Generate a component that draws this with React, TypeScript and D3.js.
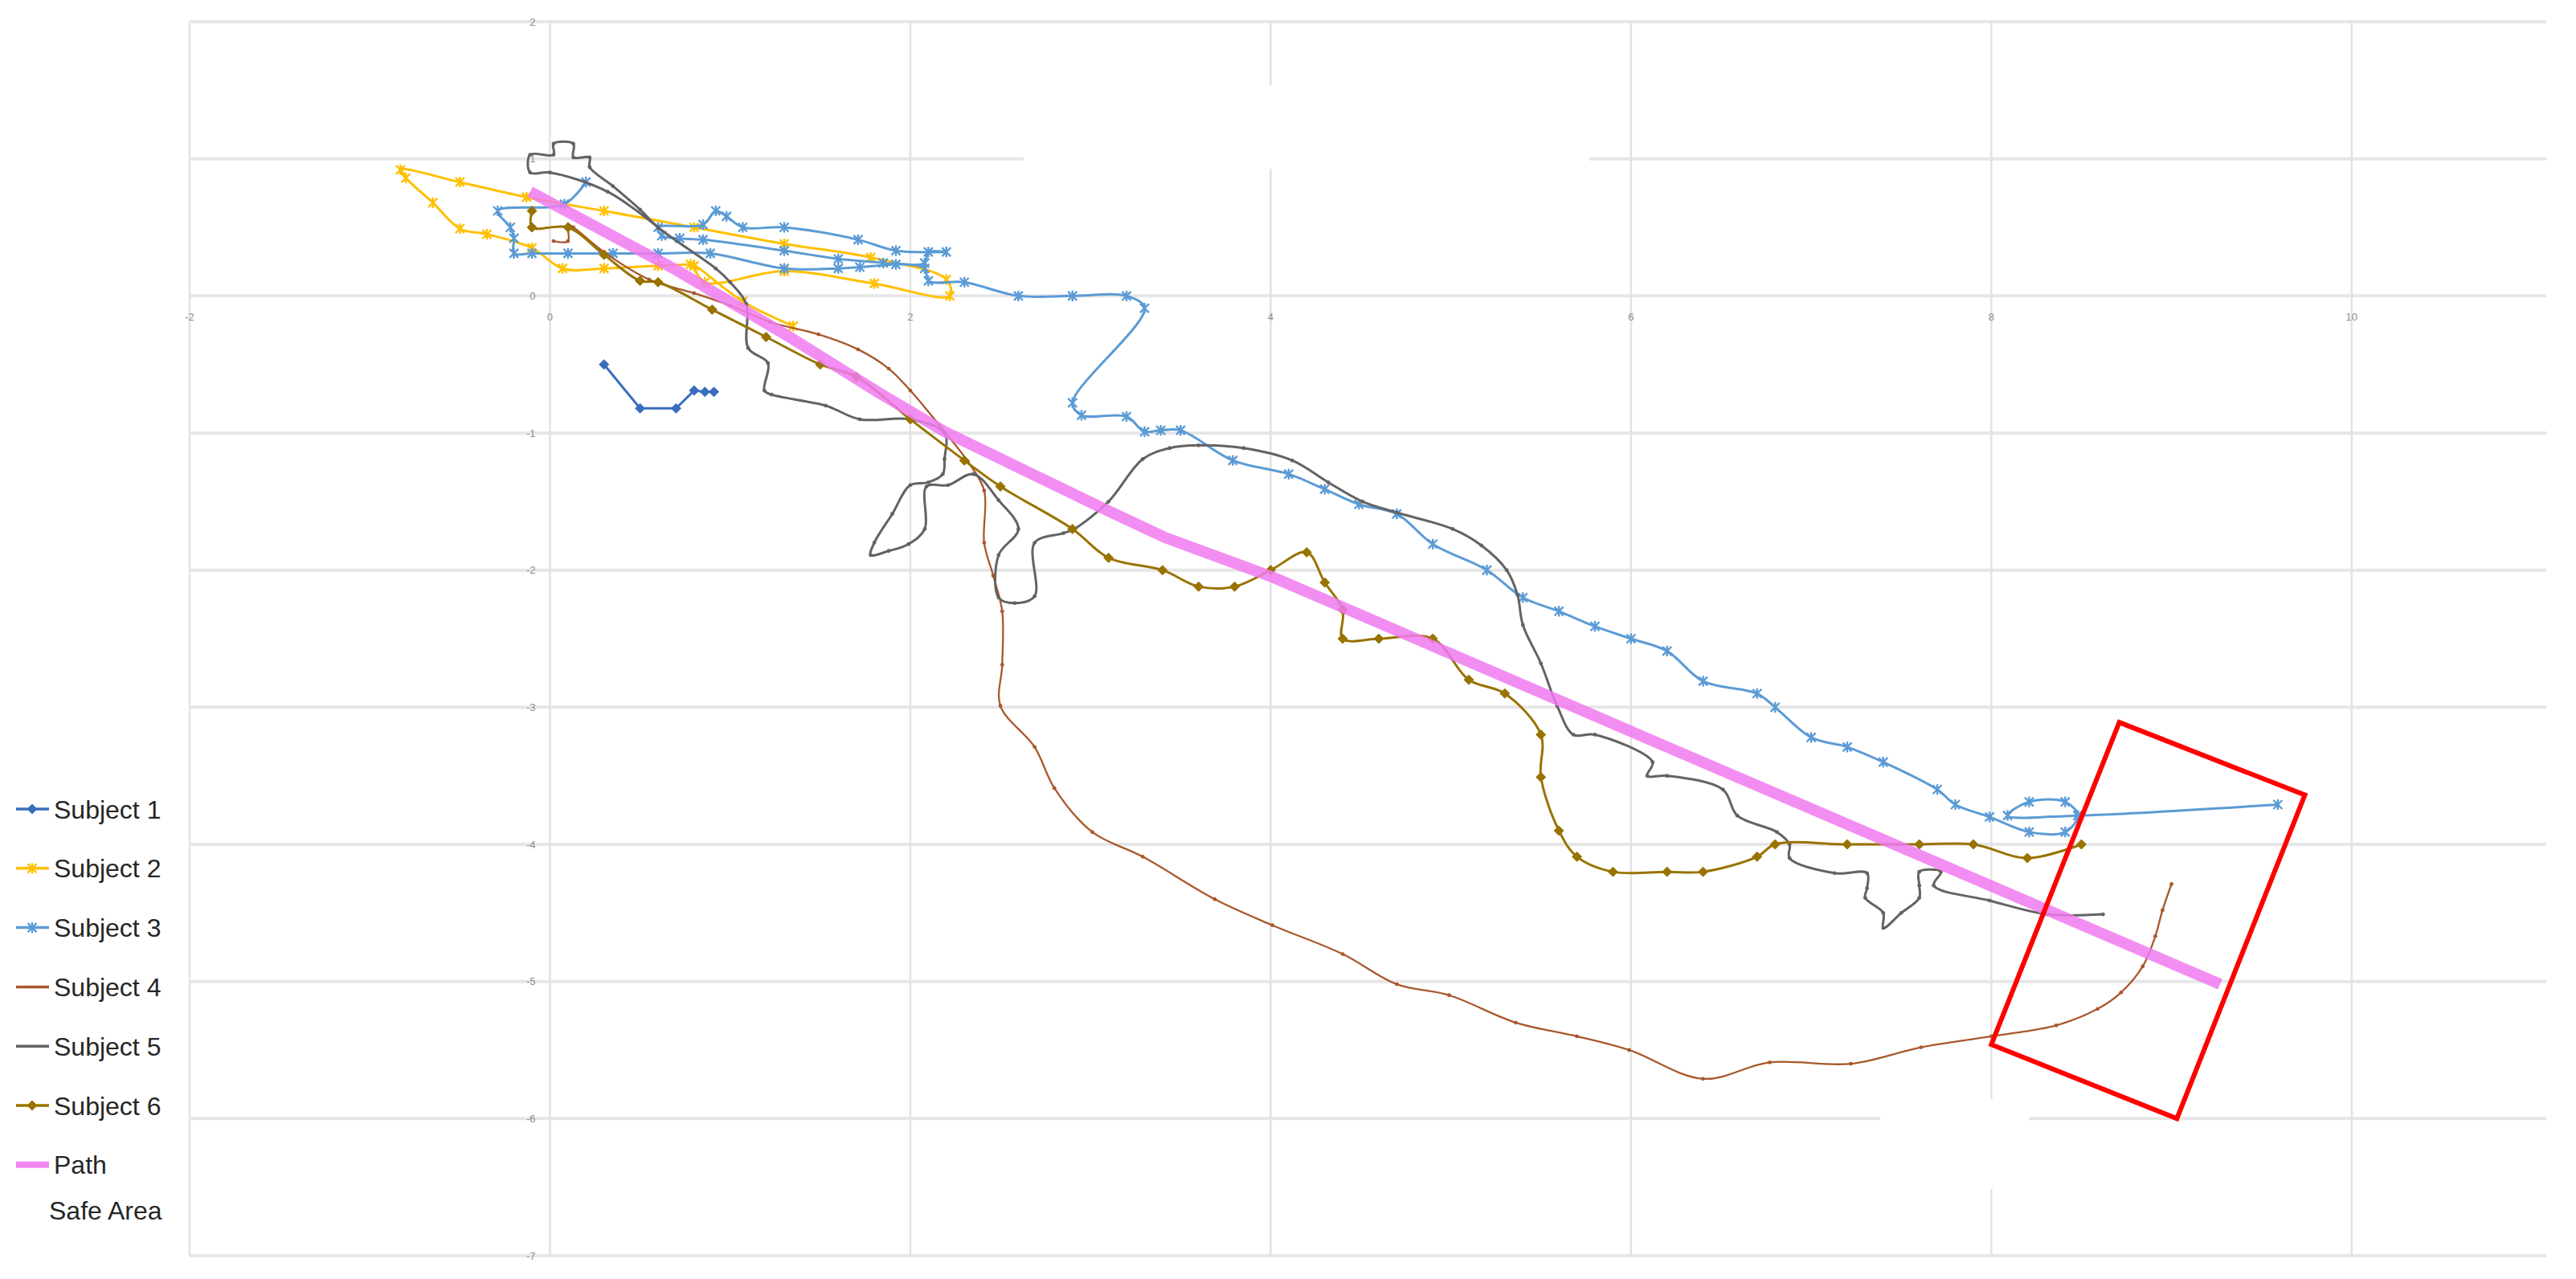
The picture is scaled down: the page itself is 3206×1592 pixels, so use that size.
import React from 'react';
import * as d3 from 'd3';

type Pt = [number, number];

const xTicks = [-2, 0, 2, 4, 6, 8, 10];
const yTicks = [2, 1, 0, -1, -2, -3, -4, -5, -6, -7];

const subject1: Pt[] = [[0.3, -0.5], [0.5, -0.82], [0.7, -0.82], [0.8, -0.69], [0.86, -0.7], [0.91, -0.7]];

const subject2: Pt[] = [
  [1.35, -0.22], [1.07, -0.04], [0.8, 0.22], [0.86, 0.1], [1.3, 0.18], [1.8, 0.09], [2.22, 0.0],
  [2.2, 0.12], [1.78, 0.28], [1.3, 0.38], [0.8, 0.5], [0.3, 0.62], [-0.13, 0.72], [-0.5, 0.83],
  [-0.83, 0.92], [-0.8, 0.86], [-0.65, 0.68], [-0.5, 0.49], [-0.35, 0.45], [-0.1, 0.35], [0.07, 0.2],
  [0.3, 0.2], [0.6, 0.22], [0.78, 0.23],
];

const subject3: Pt[] = [
  [0.2, 0.83], [0.08, 0.67], [-0.29, 0.62], [-0.22, 0.5], [-0.2, 0.42], [-0.2, 0.31], [-0.1, 0.31],
  [0.1, 0.31], [0.35, 0.31], [0.6, 0.31], [0.89, 0.31], [1.3, 0.2], [1.6, 0.2], [1.72, 0.21],
  [1.92, 0.23], [2.08, 0.24], [2.1, 0.32], [2.2, 0.32], [1.92, 0.33], [1.71, 0.41], [1.3, 0.5],
  [1.07, 0.5], [0.98, 0.58], [0.92, 0.62], [0.85, 0.52], [0.6, 0.5], [0.62, 0.44], [0.72, 0.42],
  [0.85, 0.41], [1.3, 0.33], [1.6, 0.27], [1.85, 0.24], [2.08, 0.2], [2.1, 0.11], [2.3, 0.1],
  [2.6, 0.0], [2.9, 0.0], [3.2, 0.0], [3.3, -0.09], [2.9, -0.78], [2.95, -0.87], [3.2, -0.88],
  [3.3, -0.99], [3.39, -0.98], [3.5, -0.98], [3.79, -1.2], [4.1, -1.3], [4.3, -1.41], [4.49, -1.52],
  [4.7, -1.59], [4.9, -1.81], [5.2, -2.0], [5.4, -2.2], [5.6, -2.3], [5.8, -2.41], [6.0, -2.5],
  [6.2, -2.59], [6.4, -2.81], [6.7, -2.9], [6.8, -3.0], [7.0, -3.22], [7.2, -3.29], [7.4, -3.4],
  [7.7, -3.6], [7.8, -3.71], [7.99, -3.8], [8.21, -3.91], [8.41, -3.91], [8.48, -3.79], [8.41, -3.69],
  [8.21, -3.69], [8.09, -3.79], [8.48, -3.79], [9.59, -3.71],
];

const subject4: Pt[] = [
  [0.02, 0.4], [0.1, 0.4], [0.1, 0.52], [0.13, 0.5], [0.3, 0.32], [0.55, 0.12], [0.8, 0.02],
  [1.0, -0.07], [1.22, -0.19], [1.49, -0.28], [1.71, -0.39], [1.88, -0.53], [2.0, -0.69], [2.19, -0.99],
  [2.32, -1.21], [2.41, -1.42], [2.41, -1.8], [2.46, -2.04], [2.51, -2.3], [2.51, -2.69], [2.5, -2.99],
  [2.69, -3.29], [2.8, -3.59], [3.01, -3.91], [3.29, -4.09], [3.69, -4.4], [4.01, -4.59], [4.4, -4.8],
  [4.7, -5.02], [4.99, -5.1], [5.36, -5.3], [5.7, -5.4], [5.99, -5.5], [6.4, -5.71], [6.77, -5.59],
  [7.22, -5.6], [7.61, -5.48], [8.0, -5.4], [8.36, -5.32], [8.59, -5.2], [8.72, -5.08], [8.84, -4.89],
  [8.91, -4.67], [8.95, -4.48], [9.0, -4.29],
];

const subject5: Pt[] = [
  [0.6, 0.5], [0.32, 0.76], [0.0, 0.9], [-0.11, 0.9], [-0.11, 1.03], [0.02, 1.03], [0.02, 1.11],
  [0.13, 1.11], [0.13, 1.01], [0.22, 1.01], [0.22, 0.94], [0.35, 0.8], [0.5, 0.63], [0.6, 0.5],
  [0.92, 0.2], [1.0, 0.1], [1.09, -0.06], [1.1, -0.38], [1.21, -0.49], [1.19, -0.69], [1.23, -0.72],
  [1.53, -0.8], [1.72, -0.9], [2.0, -0.9], [2.19, -1.0], [2.19, -1.19], [2.18, -1.3], [2.1, -1.36],
  [2.0, -1.38], [1.9, -1.59], [1.8, -1.8], [1.78, -1.89], [1.88, -1.86], [1.99, -1.81], [2.08, -1.7],
  [2.09, -1.39], [2.21, -1.38], [2.35, -1.3], [2.49, -1.49], [2.6, -1.7], [2.49, -1.89], [2.49, -2.2],
  [2.58, -2.24], [2.69, -2.19], [2.69, -1.8], [2.85, -1.73], [2.91, -1.7], [3.1, -1.5], [3.29, -1.19],
  [3.44, -1.11], [3.6, -1.09], [3.85, -1.11], [4.12, -1.2], [4.32, -1.36], [4.51, -1.5], [4.7, -1.58],
  [5.01, -1.7], [5.17, -1.82], [5.31, -2.0], [5.37, -2.18], [5.4, -2.4], [5.5, -2.68], [5.59, -2.99],
  [5.68, -3.2], [5.8, -3.2], [6.12, -3.4], [6.09, -3.5], [6.2, -3.5], [6.51, -3.6], [6.59, -3.79],
  [6.81, -3.91], [6.88, -4.0], [6.88, -4.1], [7.13, -4.21], [7.31, -4.21], [7.31, -4.32], [7.3, -4.39],
  [7.4, -4.5], [7.4, -4.61], [7.5, -4.5], [7.6, -4.39], [7.6, -4.3], [7.6, -4.2], [7.72, -4.2],
  [7.68, -4.3], [7.99, -4.41], [8.31, -4.51], [8.62, -4.51],
];

const subject6: Pt[] = [
  [-0.1, 0.62], [-0.1, 0.5], [0.1, 0.5], [0.3, 0.3], [0.5, 0.11], [0.6, 0.1], [0.9, -0.1], [1.2, -0.3],
  [1.5, -0.5], [1.7, -0.59], [2.0, -0.9], [2.3, -1.2], [2.5, -1.39], [2.9, -1.7], [3.1, -1.91],
  [3.4, -2.0], [3.6, -2.12], [3.8, -2.12], [4.0, -2.0], [4.2, -1.87], [4.3, -2.09], [4.4, -2.29],
  [4.4, -2.5], [4.6, -2.5], [4.9, -2.5], [5.1, -2.8], [5.3, -2.9], [5.5, -3.2], [5.5, -3.51],
  [5.6, -3.9], [5.7, -4.09], [5.9, -4.2], [6.2, -4.2], [6.4, -4.2], [6.7, -4.09], [6.8, -4.0],
  [7.2, -4.0], [7.6, -4.0], [7.9, -4.0], [8.2, -4.1], [8.5, -4.0],
];

const pathLine: Pt[] = [
  [-0.11, 0.76], [0.7, 0.19], [1.33, -0.3], [1.83, -0.71], [2.19, -0.99], [3.07, -1.55], [3.41, -1.76],
  [4.01, -2.05], [6.29, -3.34], [9.27, -5.02],
];

const safeArea: Pt[] = [[8.71, -3.11], [9.74, -3.64], [9.03, -6.0], [8.0, -5.46]];

const legendLabels = ['Subject 1', 'Subject 2', 'Subject 3', 'Subject 4', 'Subject 5', 'Subject 6', 'Path', 'Safe Area'];

const colors = ['#3B6DBE', '#FFC000', '#5B9BD5', '#A9582C', '#636363', '#997300', '#F07AF0', '#FF0000'];

const X = d3.scaleLinear().domain([-2, 11.08]).range([236, 3169]);
const Y = d3.scaleLinear().domain([-7, 2]).range([1563, 27]);

const smooth = d3.line<Pt>().x(d => X(d[0])).y(d => Y(d[1])).curve(d3.curveCatmullRom.alpha(0.5));
const straight = d3.line<Pt>().x(d => X(d[0])).y(d => Y(d[1]));
const closed = d3.line<Pt>().x(d => X(d[0])).y(d => Y(d[1])).curve(d3.curveLinearClosed);

const diamond = (s: number) => `M0,${-s}L${s},0L0,${s}L${-s},0Z`;
const star = (s: number) => `M${-s},${-s}L${s},${s}M${-s},${s}L${s},${-s}M0,${-s * 1.2}L0,${s * 1.2}`;

type Kind = 'diamond' | 'star' | 'dot' | 'none';

function Marker({ x, y, kind, color }: { x: number; y: number; kind: Kind; color: string }) {
  if (kind === 'diamond') return <path d={diamond(6)} transform={`translate(${x},${y})`} fill={color} stroke={color} strokeWidth={1} />;
  if (kind === 'star') return <path d={star(5.5)} transform={`translate(${x},${y})`} fill="none" stroke={color} strokeWidth={2.4} />;
  if (kind === 'dot') return <circle cx={x} cy={y} r={2.4} fill={color} />;
  return null;
}

const subjects: { data: Pt[]; kind: Kind; width: number; smooth: boolean }[] = [
  { data: subject1, kind: 'diamond', width: 3, smooth: false },
  { data: subject2, kind: 'star', width: 3, smooth: true },
  { data: subject3, kind: 'star', width: 3, smooth: true },
  { data: subject4, kind: 'dot', width: 2.3, smooth: true },
  { data: subject5, kind: 'dot', width: 3, smooth: true },
  { data: subject6, kind: 'diamond', width: 3, smooth: true },
];

export default function App() {
  const legendY = legendLabels.map((_, i) => (i < 7 ? 1007 + i * 73.8 : 1506));
  const legendKinds: Kind[] = ['diamond', 'star', 'star', 'none', 'none', 'diamond', 'none', 'none'];
  return (
    <svg width={3206} height={1592} style={{ position: 'absolute', left: 0, top: 0, background: '#fff' }}
      fontFamily="'Liberation Sans', Arial, sans-serif">
      <rect x={0} y={0} width={3206} height={1592} fill="#fff" />
      {yTicks.map(t => (
        <line key={'h' + t} x1={X(-2)} x2={3169} y1={Y(t)} y2={Y(t)} stroke="#E6E6E6" strokeWidth={4} />
      ))}
      {xTicks.map(t => (
        <line key={'v' + t} x1={X(t)} x2={X(t)} y1={Y(2)} y2={Y(-7)} stroke="#E2E2E2" strokeWidth={2.5} />
      ))}
      <rect x={1274} y={106} width={704} height={104} fill="#fff" />
      <rect x={2340} y={1368} width={185} height={112} fill="#fff" />
      {yTicks.map(t => (
        <text key={'yl' + t} x={X(0) - 18} y={Y(t)} dy="0.35em" textAnchor="end" fontSize={13} fill="#8c8c8c">{t}</text>
      ))}
      {xTicks.map(t => (
        <text key={'xl' + t} x={X(t)} y={Y(0) + 26} dy="0.35em" textAnchor="middle" fontSize={13} fill="#8c8c8c">{t}</text>
      ))}
      {subjects.map((s, i) => (
        <g key={'s' + i}>
          <path d={(s.smooth ? smooth : straight)(s.data) || ''} fill="none" stroke={colors[i]} strokeWidth={s.width} strokeLinejoin="round" />
          {s.data.map((d, j) => (
            <Marker key={j} x={X(d[0])} y={Y(d[1])} kind={s.kind} color={colors[i]} />
          ))}
        </g>
      ))}
      <path d={straight(pathLine) || ''} fill="none" stroke={colors[6]} strokeOpacity={0.85} strokeWidth={14} strokeLinejoin="round" />
      <path d={closed(safeArea) || ''} fill="none" stroke={colors[7]} strokeWidth={6} strokeLinejoin="miter" />
      {legendLabels.map((l, i) => (
        <g key={'lg' + i}>
          {i < 7 && (
            <line x1={20} x2={61} y1={legendY[i]} y2={legendY[i]} stroke={colors[i]} strokeWidth={i === 6 ? 8 : 3.5} strokeOpacity={i === 6 ? 0.9 : 1} />
          )}
          <Marker x={40} y={legendY[i]} kind={legendKinds[i]} color={colors[i]} />
          <text x={i === 7 ? 61 : 67} y={legendY[i]} dy="0.36em" fontSize={32} fill="#262626">{l}</text>
        </g>
      ))}
    </svg>
  );
}
